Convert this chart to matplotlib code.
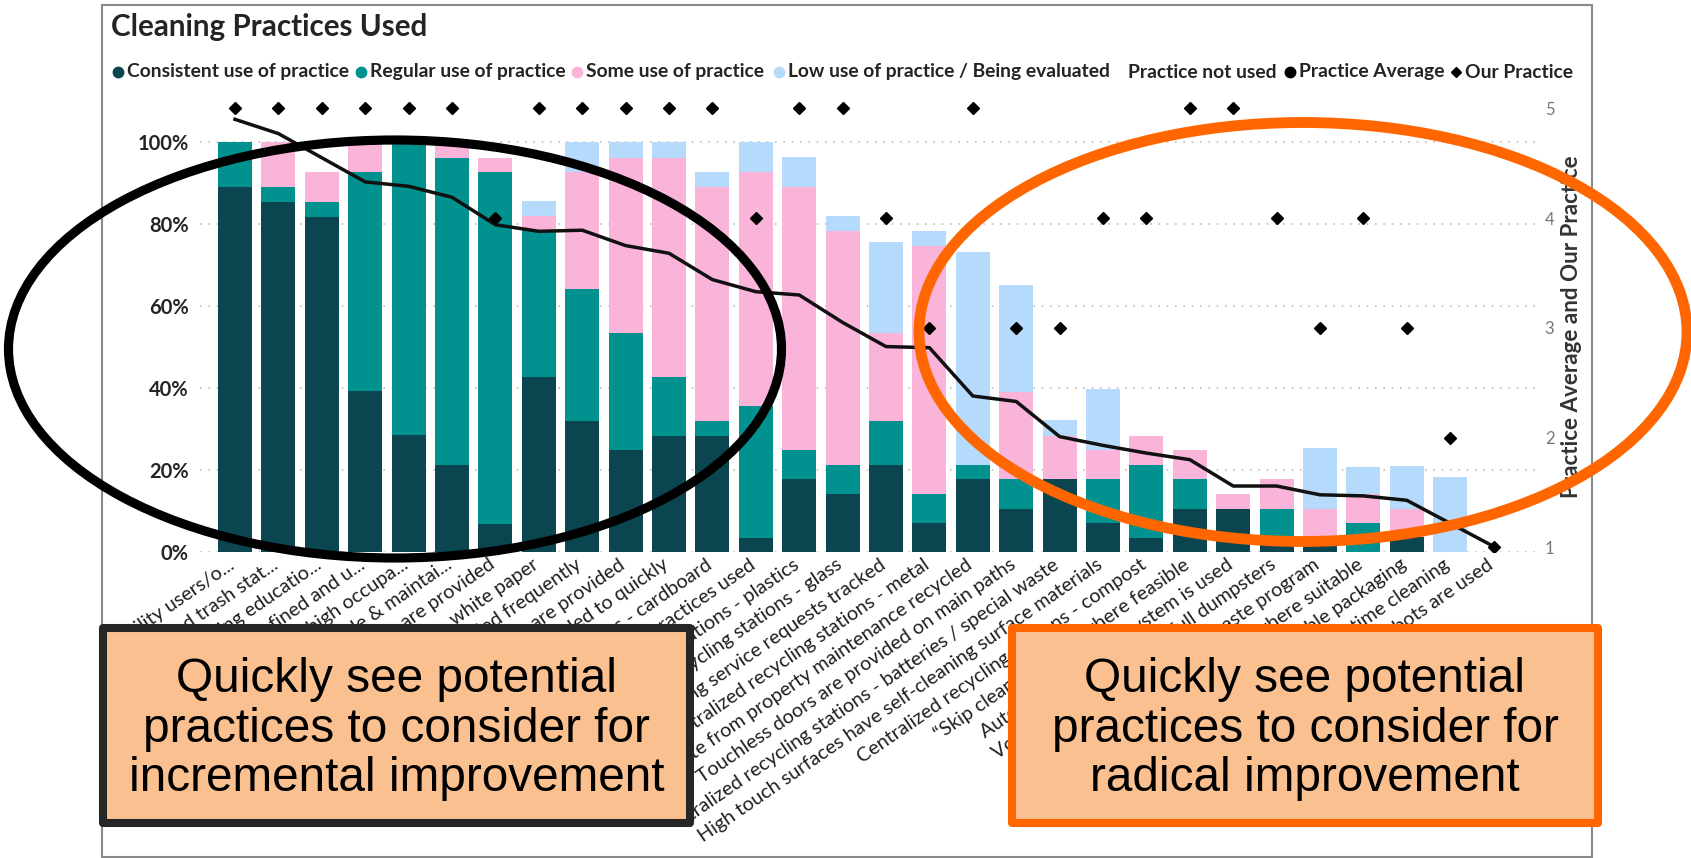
import matplotlib
matplotlib.use("Agg")
import matplotlib.pyplot as plt
from matplotlib.patches import Ellipse, Rectangle
from matplotlib.lines import Line2D
from matplotlib.transforms import blended_transform_factory

# ---------------- data ----------------
categories = [
    "Input from facility users/o...",
    "Centralized trash stat...",
    "Recycling educatio...",
    "Cleaning zones defined and u...",
    "Cleaning high occupa...",
    "Cleaning schedule & maintai...",
    "Hand sanitizer stations are provided",
    "Recycling - white paper",
    "Trash receptacles emptied frequently",
    "Recycling bins are provided",
    "Spills are responded to quickly",
    "Recycling stations - cardboard",
    "Green cleaning practices used",
    "Centralized recycling stations - plastics",
    "Centralized recycling stations - glass",
    "Cleaning service requests tracked",
    "Centralized recycling stations - metal",
    "Waste from property maintenance recycled",
    "Touchless doors are provided on main paths",
    "Centralized recycling stations - batteries / special waste",
    "High touch surfaces have self-cleaning surface materials",
    "Centralized recycling stations - compost",
    "\u201cSkip cleaning\u201d used where feasible",
    "Automated tracking system is used",
    "Volume sensors used on full dumpsters",
    "Zero waste program",
    "Microfiber used where suitable",
    "Compostable packaging",
    "Daytime cleaning",
    "Cleaning robots are used",
]

# percent of respondents per practice level
consistent = [89.1, 85.4, 81.8, 39.2, 28.5, 21.3, 6.9, 42.8, 32.0, 24.9,
              28.4, 28.4, 3.5, 17.8, 14.2, 21.2, 7.0, 17.8, 10.6, 17.8,
              7.0, 3.5, 10.6, 10.6, 3.5, 3.5, 0.0, 3.6, 0.0, 0.0]
regular = [10.9, 3.7, 3.6, 53.4, 71.5, 74.9, 85.7, 35.8, 32.2, 28.6,
           14.2, 3.6, 32.2, 7.1, 7.0, 10.8, 7.2, 3.4, 7.2, 0.0,
           10.8, 17.7, 7.1, 0.0, 7.1, 0.0, 7.0, 0.0, 0.0, 0.0]
some_use = [0.0, 10.9, 7.2, 7.4, 0.0, 3.6, 3.6, 3.4, 28.4, 42.7,
            53.6, 57.1, 56.9, 64.2, 57.1, 21.5, 60.5, 0.0, 21.3, 10.6,
            7.1, 7.2, 7.2, 3.5, 7.1, 7.1, 7.2, 7.0, 0.0, 0.0]
low_use = [0.0, 0.0, 0.0, 0.0, 0.0, 0.0, 0.0, 3.6, 7.4, 3.8,
           3.8, 3.7, 7.4, 7.3, 3.7, 22.0, 3.7, 51.9, 26.0, 3.7,
           14.9, 0.0, 0.0, 0.0, 0.0, 14.7, 6.6, 10.3, 18.4, 0.0]

practice_avg = [4.90, 4.77, 4.55, 4.33, 4.29, 4.19, 3.94, 3.88, 3.89, 3.75,
                3.68, 3.44, 3.33, 3.30, 3.05, 2.83, 2.82, 2.38, 2.33, 2.01,
                1.93, 1.86, 1.80, 1.56, 1.56, 1.48, 1.47, 1.43, 1.22, 1.01]
our_practice = [5, 5, 5, 5, 5, 5, 4, 5, 5, 5, 5, 5, 4, 5, 5, 4, 3, 5, 3, 3,
                4, 4, 5, 5, 4, 3, 4, 3, 2, 1]

series_names = ["Consistent use of practice", "Regular use of practice",
                "Some use of practice", "Low use of practice / Being evaluated",
                "Practice not used", "Practice Average", "Our Practice"]
y_ticks = [0, 20, 40, 60, 80, 100]
y_tick_labels = ["0%", "20%", "40%", "60%", "80%", "100%"]
y2_ticks = [1, 2, 3, 4, 5]
y2_tick_labels = ["1", "2", "3", "4", "5"]

title = "Cleaning Practices Used"
y2_title = "Practice Average and Our Practice"
box_left_text = "Quickly see potential\npractices to consider for\nincremental improvement"
box_right_text = "Quickly see potential\npractices to consider for\nradical improvement"

# ---------------- style ----------------
colors = ["#0B4650", "#01928F", "#FAB3D9", "#B6DAFB", "#FFFFFF"]
UI = ["Lato", "DejaVu Sans"]
plt.rcParams["font.family"] = UI

W, H = 1691, 858
fig = plt.figure(figsize=(W / 100, H / 100), dpi=100)
fig.patch.set_facecolor("white")


def fx(px):
    return px / W


def fy(py):
    return 1 - py / H


renderer = fig.canvas.get_renderer()


def fit_width(t, target):
    w = t.get_window_extent(renderer).width
    t.set_fontsize(t.get_fontsize() * target / w)


# axes geometry (pixels)
AX_L, AX_R, AX_T, AX_B = 200, 1535, 100, 552
X0, PITCH = 235, 43.4
ax = fig.add_axes([fx(AX_L), fy(AX_B), (AX_R - AX_L) / W, (AX_B - AX_T) / H])
n = len(categories)
xs = list(range(n))
ax.set_xlim((AX_L - X0) / PITCH, (AX_R - X0) / PITCH)
ax.set_ylim(0, (AX_B - AX_T) / 410 * 100)

bottom = [0.0] * n
for vals, col in zip([consistent, regular, some_use, low_use], colors):
    ax.bar(xs, vals, bottom=bottom, width=0.78, color=col, linewidth=0, zorder=2)
    bottom = [b + v for b, v in zip(bottom, vals)]

ax.set_yticks(y_ticks)
ax.set_yticklabels(y_tick_labels, fontsize=14.5, fontweight="bold", color="#252423")
ax.tick_params(axis="y", length=0, pad=8)
ax.set_xticks([])
ax.yaxis.grid(True, linestyle=(0, (1, 4)), color="#bdbdbd", linewidth=1.2)
ax.set_axisbelow(True)
for s in ax.spines.values():
    s.set_visible(False)
ax.patch.set_alpha(0)

ax2 = ax.twinx()
ax2.set_ylim(0.959, 5.076)
ax2.plot(xs, practice_avg, color="#111111", linewidth=2.5, zorder=3,
         solid_joinstyle="round")
ax2.plot(xs, our_practice, linestyle="none", marker="D", markersize=6.3,
         color="black", zorder=4)
ax2.set_yticks(y2_ticks)
ax2.set_yticklabels(y2_tick_labels, fontsize=12, color="#777777")
ax2.tick_params(axis="y", length=0, pad=7)
for s in ax2.spines.values():
    s.set_visible(False)
ax2.set_xlim(ax.get_xlim())

# frame of the visual
frame = Rectangle((fx(102), fy(857)), (1592 - 102) / W, (857 - 5) / H,
                  transform=fig.transFigure, fill=False, edgecolor="#8a8a8a",
                  linewidth=1.5, zorder=1)
fig.add_artist(frame)
clip_rect = Rectangle((fx(103), fy(857)), (1591 - 103) / W, (857 - 6) / H,
                      transform=fig.transFigure)

# category labels
trans = blended_transform_factory(ax.transData, ax.transAxes)
probe = fig.text(0, 0, categories[20], fontsize=12, family=UI)
fit_width(probe, 485)
lab_size = probe.get_fontsize()
probe.remove()
for i, lab in enumerate(categories):
    t = ax.text(i - 0.05, -0.024, lab, transform=trans, rotation=34.5,
                rotation_mode="anchor", ha="right", va="center",
                fontsize=lab_size, color="#1f1f1f", clip_on=True)
    t.set_clip_path(clip_rect)

# white area under the left call-out box (labels are hidden there)
fig.add_artist(Rectangle((fx(104), fy(855)), (690 - 104) / W, (855 - 826) / H,
                         transform=fig.transFigure, facecolor="white",
                         edgecolor="none", zorder=5.5))

# title
tt = fig.text(fx(111), fy(27), title, fontsize=18, fontweight="bold",
              color="#252423", va="center", ha="left")
fit_width(tt, 318)

# legend
leg_text_x = [127, 370, 586, 788, 1128, 1299, 1465]
leg_y = 72
leg_markers = ["o", "o", "o", "o", "o", "o", "D"]
leg_colors = [colors[0], colors[1], colors[2], colors[3], "#FFFFFF", "#000000", "#000000"]
probe = fig.text(0, 0, series_names[0], fontsize=11, fontweight="bold")
fit_width(probe, 222)
leg_size = probe.get_fontsize()
probe.remove()
for name, tx, mk, mc in zip(series_names, leg_text_x, leg_markers, leg_colors):
    fig.text(fx(tx), fy(leg_y), name, fontsize=leg_size, fontweight="bold",
             color="#252423", va="center", ha="left")
    fig.add_artist(Line2D([fx(tx - 9.5)], [fy(leg_y)], marker=mk,
                          markersize=7.5 if mk == "o" else 5.5,
                          color=mc, linestyle="none", transform=fig.transFigure))

# right axis title
rt = fig.text(fx(1572), fy(327), y2_title, rotation=90, fontsize=13,
              fontweight="bold", color="#333333", va="center", ha="center")
h = rt.get_window_extent(renderer).height
rt.set_fontsize(rt.get_fontsize() * 342 / h)

# ellipses
fig.add_artist(Ellipse((fx(395), fy(349)), 773 / W, 418 / H, transform=fig.transFigure,
                       fill=False, edgecolor="black", linewidth=6.6, zorder=5))
fig.add_artist(Ellipse((fx(1303), fy(332)), 768 / W, 419 / H, transform=fig.transFigure,
                       fill=False, edgecolor="#FF6600", linewidth=7.8, zorder=5))

# boxes
for (x0, x1, ec, txt) in [(103, 690, "#262626", box_left_text),
                          (1012, 1598, "#FF6600", box_right_text)]:
    fig.add_artist(Rectangle((fx(x0), fy(823)), (x1 - x0) / W, (823 - 628) / H,
                             transform=fig.transFigure, facecolor="#FAC090",
                             edgecolor=ec, linewidth=5.8, joinstyle="round", zorder=6))
    bt = fig.text(fx((x0 + x1) / 2), fy(729), txt, family=["Liberation Sans", "DejaVu Sans"],
                  fontsize=34, color="black", ha="center", va="center",
                  linespacing=1.12, multialignment="center", zorder=7)
    pr = fig.text(0, 0, "practices to consider for", family=["Liberation Sans", "DejaVu Sans"],
                  fontsize=34)
    w = pr.get_window_extent(renderer).width
    pr.remove()
    bt.set_fontsize(34 * 507 / w)

fig.savefig("out.png", dpi=100, facecolor="white")
